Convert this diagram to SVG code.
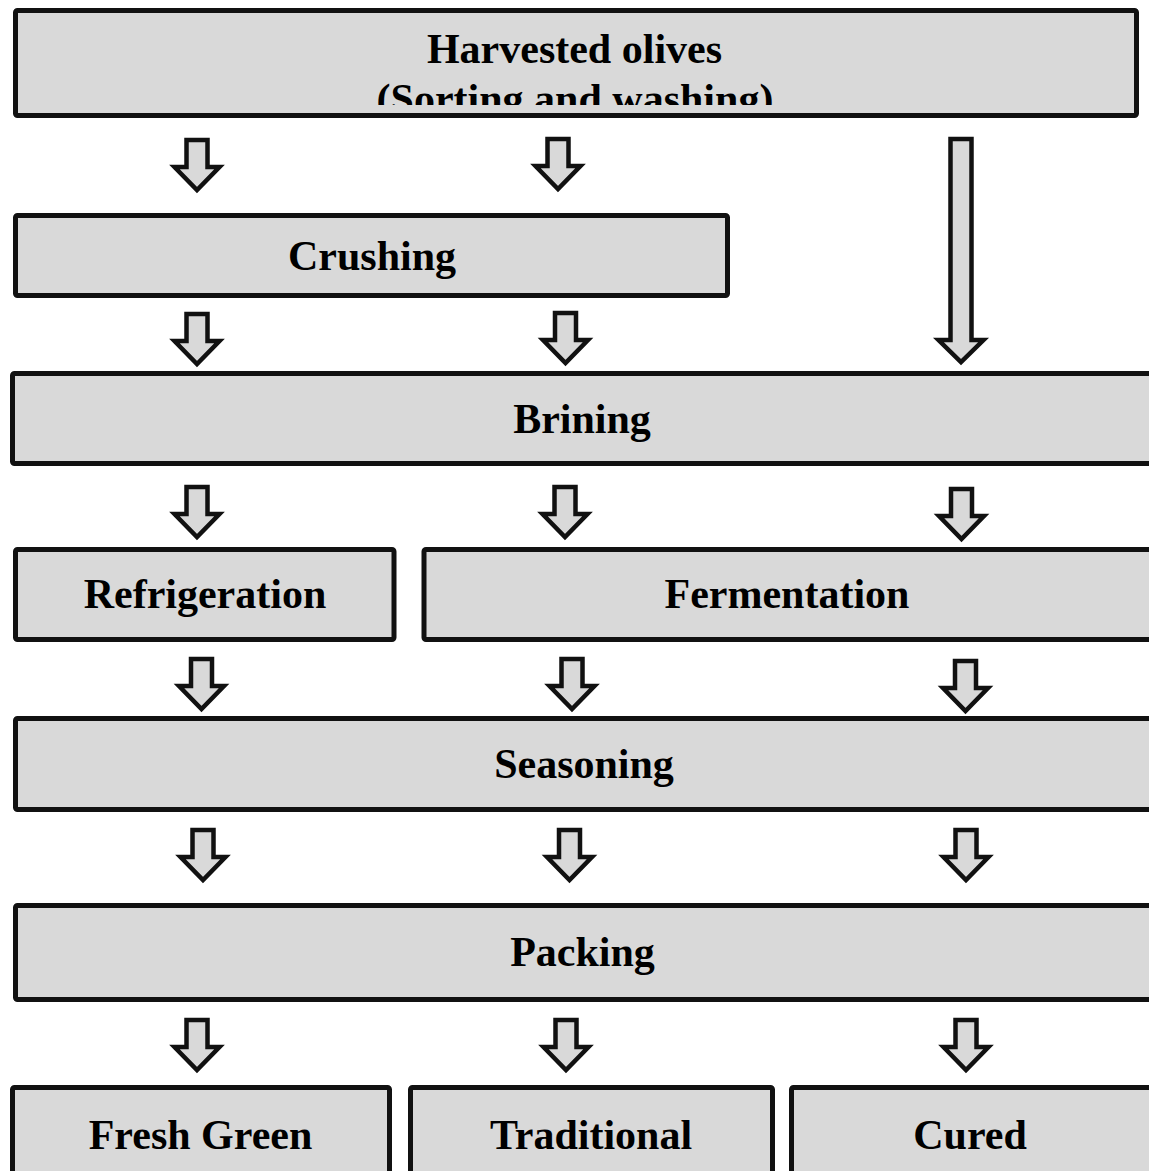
<svg xmlns="http://www.w3.org/2000/svg" width="1149" height="1171" viewBox="0 0 1149 1171">
<style>
.box{fill:#d9d9d9;stroke:#111;stroke-width:5;}
.lbl{font-family:"Liberation Serif","Times New Roman",serif;font-weight:bold;font-size:42px;fill:#000;text-anchor:middle;}
.arr{fill:#d9d9d9;stroke:#111;stroke-width:4.5;stroke-linejoin:miter;}
</style>
<defs>
<path id="a" class="arr" d="M-10.5,0 H10.5 V27 H22.5 L0,50 L-22.5,27 H-10.5 Z"/>
<clipPath id="clipTop"><rect x="0" y="0" width="1149" height="105"/></clipPath>
</defs>
<rect width="1149" height="1171" fill="#fff"/>
<g id="harvested">
<rect class="box" x="15.5" y="10.5" width="1121" height="105" rx="2"/>
<text class="lbl" x="574.5" y="63">Harvested olives</text>
<text class="lbl" x="575" y="113" clip-path="url(#clipTop)">(Sorting and washing)</text>
</g>
<g id="crushing">
<rect class="box" x="15.5" y="215.5" width="712" height="80" rx="2"/>
<text class="lbl" x="372" y="270">Crushing</text>
</g>
<g id="brining">
<rect class="box" x="12.5" y="373.5" width="1145" height="90" rx="2"/>
<text class="lbl" x="582" y="433">Brining</text>
</g>
<g id="refrigeration">
<rect class="box" x="15.5" y="549.5" width="378.5" height="90" rx="2"/>
<text class="lbl" x="205" y="608">Refrigeration</text>
</g>
<g id="fermentation">
<rect class="box" x="424" y="549.5" width="735" height="90" rx="2"/>
<text class="lbl" x="787" y="608">Fermentation</text>
</g>
<g id="seasoning">
<rect class="box" x="15.5" y="718.5" width="1145" height="91" rx="2"/>
<text class="lbl" x="584" y="778">Seasoning</text>
</g>
<g id="packing">
<rect class="box" x="15.5" y="905.5" width="1145" height="94" rx="2"/>
<text class="lbl" x="582.5" y="966">Packing</text>
</g>
<g id="fresh-green">
<rect class="box" x="12.5" y="1087.5" width="377" height="100" rx="2"/>
<text class="lbl" x="200.5" y="1149">Fresh Green</text>
</g>
<g id="traditional">
<rect class="box" x="410.5" y="1087.5" width="362" height="100" rx="2"/>
<text class="lbl" x="591" y="1149">Traditional</text>
</g>
<g id="cured">
<rect class="box" x="791.5" y="1087.5" width="370" height="100" rx="2"/>
<text class="lbl" x="970" y="1149">Cured</text>
</g>
<g id="connectors">
<use href="#a" transform="translate(197,140)"/>
<use href="#a" transform="translate(558,139)"/>
<path class="arr" d="M950.5,139 H971.5 V340 H983.5 L961,362 L938.5,340 H950.5 Z"/>
<use href="#a" transform="translate(197,314)"/>
<use href="#a" transform="translate(565.5,313)"/>
<use href="#a" transform="translate(197,487)"/>
<use href="#a" transform="translate(565,487)"/>
<use href="#a" transform="translate(961.5,489)"/>
<use href="#a" transform="translate(201.5,659)"/>
<use href="#a" transform="translate(572,659)"/>
<use href="#a" transform="translate(965.5,661)"/>
<use href="#a" transform="translate(203,830)"/>
<use href="#a" transform="translate(569.5,830)"/>
<use href="#a" transform="translate(966,830)"/>
<use href="#a" transform="translate(197,1020)"/>
<use href="#a" transform="translate(566,1020)"/>
<use href="#a" transform="translate(966,1020)"/>
</g>
</svg>
